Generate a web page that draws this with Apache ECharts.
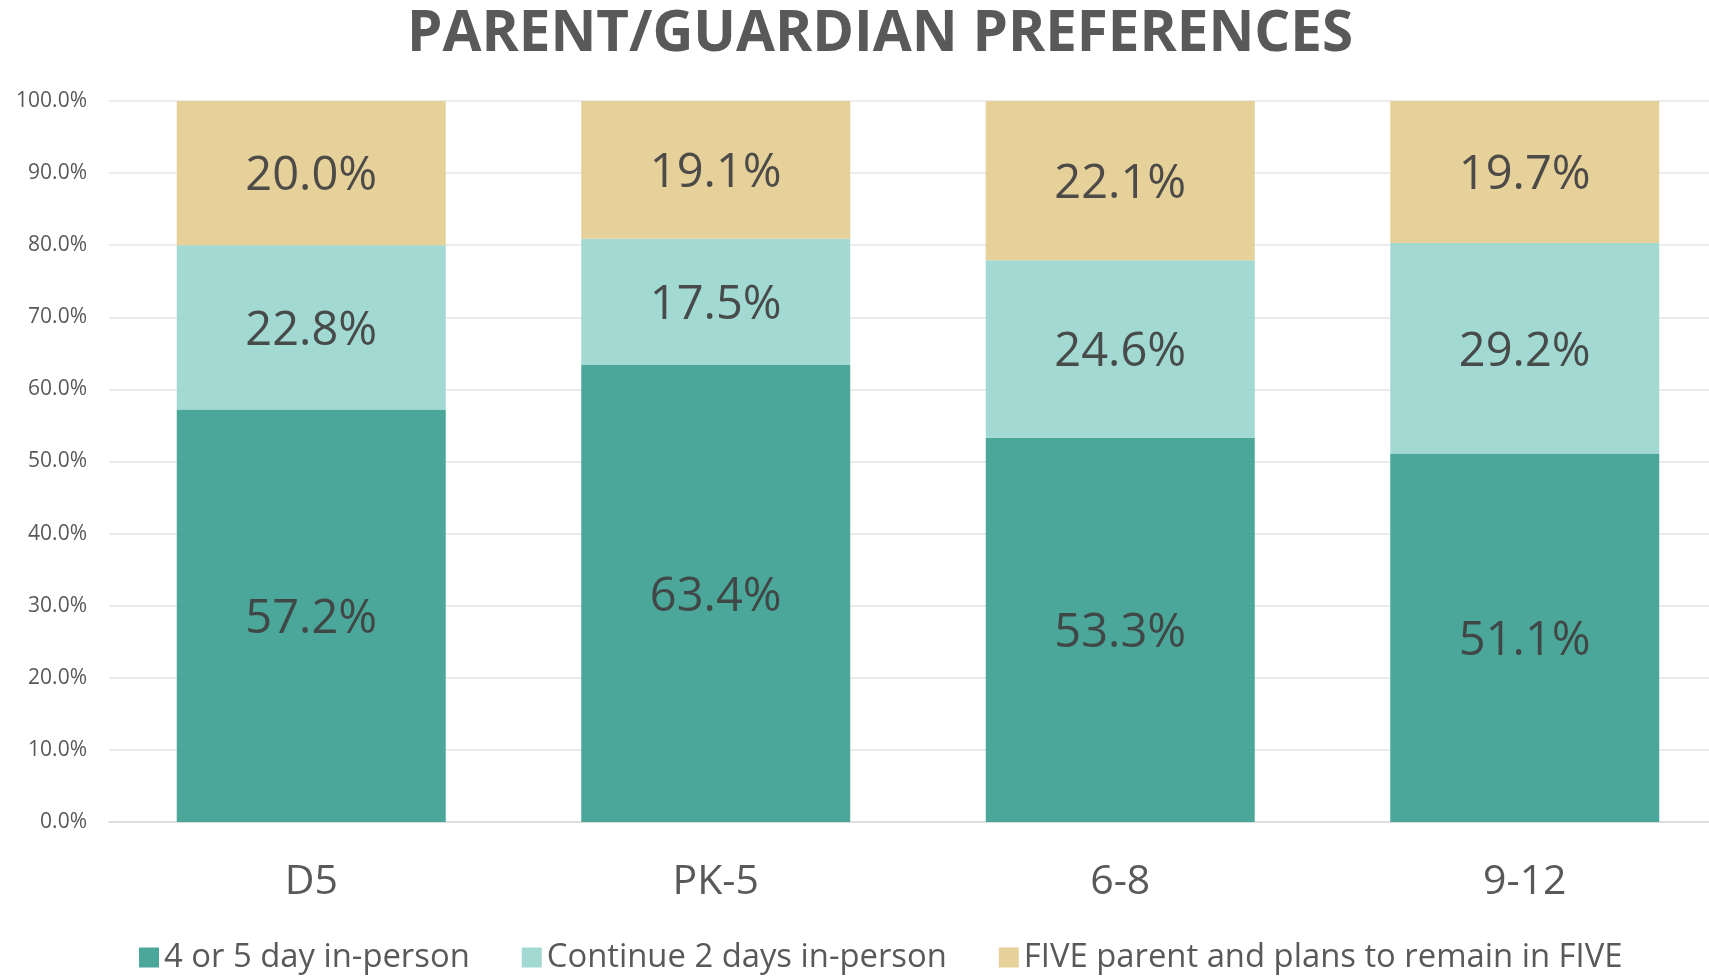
<!DOCTYPE html>
<html>
<head>
<meta charset="utf-8">
<script src="https://cdn.jsdelivr.net/npm/echarts@6/dist/echarts.min.js"></script>
<style>html,body{margin:0;padding:0;background:#fff;overflow:hidden}#c{width:1727px;height:977px}</style>
</head>
<body>
<div id="c"></div>
<script>
const categories = ['D5', 'PK-5', '6-8', '9-12'];
const seriesNames = ['4 or 5 day in-person', 'Continue 2 days in-person', 'FIVE parent and plans to remain in FIVE'];
const inPerson45 = [57.2, 63.4, 53.3, 51.1];
const continue2 = [22.8, 17.5, 24.6, 29.2];
const fiveParent = [20.0, 19.1, 22.1, 19.7];
const yTicks = [0, 10, 20, 30, 40, 50, 60, 70, 80, 90, 100];
const colors = ['#3da092', '#9ad7cf', '#e5cd93'];
const FONT = '"Open Sans", sans-serif';

const chart = echarts.init(document.getElementById('c'), null, {renderer: 'canvas'});
const lbl = {
  show: true, position: 'inside', color: '#404040', fontSize: 47, fontFamily: FONT,
  offset: [0, 4],
  formatter: p => p.value.toFixed(1) + '%'
};
const mk = (name, data, color) => ({
  name, type: 'bar', stack: 'total', data, barWidth: '66.5%',
  itemStyle: {color, opacity: 0.92}, label: lbl, emphasis: {disabled: true}
});
chart.setOption({
  animation: false,
  title: {
    text: 'PARENT/GUARDIAN PREFERENCES', left: 402, top: 1,
    textStyle: {fontFamily: FONT, fontWeight: 'bold', fontSize: 56.5, color: '#595959'}
  },
  legend: {
    bottom: -2, left: 134, itemWidth: 20, itemHeight: 20, itemGap: 52,
    icon: 'rect',
    textStyle: {fontFamily: FONT, fontSize: 32.8, color: '#595959'},
    data: seriesNames
  },
  grid: {left: 109, right: 0, top: 101, bottom: 155, containLabel: false},
  xAxis: {
    type: 'category', data: categories,
    axisLine: {lineStyle: {color: '#d9d9d9', width: 1.5}},
    axisTick: {show: false},
    axisLabel: {fontFamily: FONT, fontSize: 41, color: '#595959', margin: 40}
  },
  yAxis: {
    type: 'value', min: yTicks[0], max: yTicks[yTicks.length - 1], interval: 10,
    axisLine: {show: false}, axisTick: {show: false},
    splitLine: {lineStyle: {color: '#e6e6e6', width: 1.5}},
    axisLabel: {fontFamily: FONT, fontSize: 21, color: '#595959', margin: 22,
      formatter: v => v.toFixed(1) + '%'}
  },
  color: colors,
  series: [
    mk(seriesNames[0], inPerson45, colors[0]),
    mk(seriesNames[1], continue2, colors[1]),
    mk(seriesNames[2], fiveParent, colors[2])
  ]
});
</script>
</body>
</html>
